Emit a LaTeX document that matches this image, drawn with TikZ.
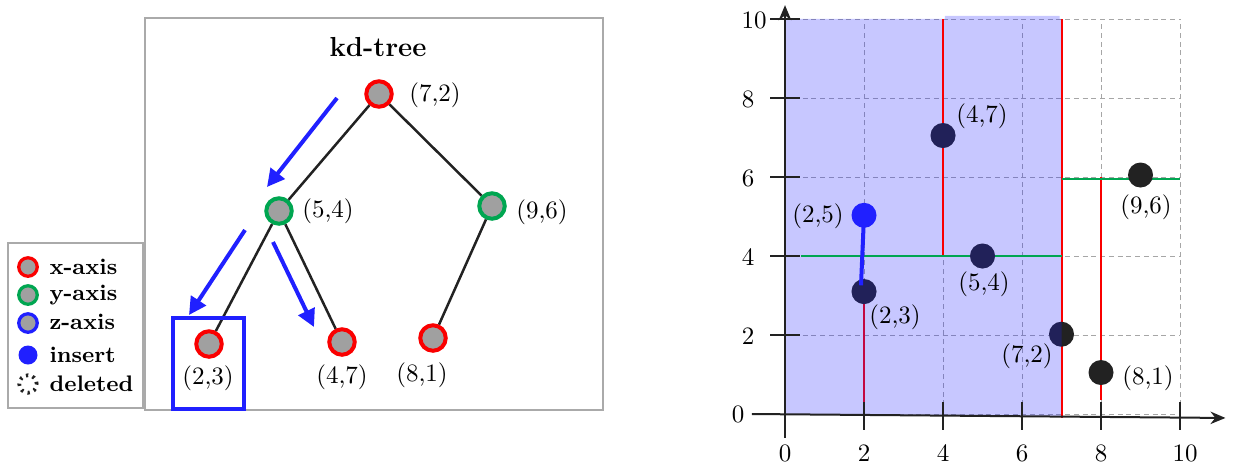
\documentclass[tikz,border=0pt]{standalone}
\usetikzlibrary{arrows.meta,calc}
\definecolor{kred}{RGB}{250,0,0}
\definecolor{kgreen}{RGB}{0,166,81}
\definecolor{kblue}{RGB}{32,32,255}
\definecolor{kgray}{RGB}{160,160,160}
\definecolor{kdark}{RGB}{34,34,34}
\definecolor{kframe}{RGB}{170,170,170}
\tikzset{
 treenode/.style={circle, fill=kgray, line width=1.6pt, minimum size=10.2pt, inner sep=0pt},
 xnode/.style={treenode, draw=kred},
 ynode/.style={treenode, draw=kgreen},
 lxnode/.style={circle, fill=kgray, line width=1.3pt, minimum size=7.4pt, inner sep=0pt, draw=kred},
 lynode/.style={lxnode, draw=kgreen},
 lznode/.style={lxnode, draw=kblue},
 linsert/.style={circle, fill=kblue, minimum size=7.6pt, inner sep=0pt},
 ldeleted/.style={circle, draw=kdark, line width=1.5pt, minimum size=7pt, inner sep=0pt, dash pattern=on 0.9pt off 1.8pt},
 edge/.style={draw=kdark, line width=1pt},
 walk/.style={draw=kblue, line width=1.6pt, -{Triangle[length=7pt,width=7pt]}},
 lbl/.style={font=\fontsize{10}{12}\selectfont, inner sep=0pt},
 legtxt/.style={font=\fontsize{9}{11}\selectfont\bfseries, anchor=west, inner sep=0pt},
 dotpt/.style={circle, fill=kdark, minimum size=10pt, inner sep=0pt},
 inspt/.style={circle, fill=kblue, minimum size=10pt, inner sep=0pt},
 frame/.style={draw=kframe, line width=0.5pt},
 gridline/.style={draw=gray!70, line width=0.3pt, dash pattern=on 2pt off 1.5pt},
 splitx/.style={draw=kred, line width=0.8pt},
 splity/.style={draw=kgreen, line width=0.8pt},
 axisline/.style={draw=kdark, line width=0.8pt},
}
\begin{document}
\begin{tikzpicture}[x=0.4pt,y=-0.4pt]
\useasboundingbox (0,0) rectangle (1237,468);
% ---------------- tree panel ----------------
\draw[frame] (145,18) rectangle (603,410);
\node[font=\fontsize{11}{13}\selectfont\bfseries, inner sep=0pt] (title) at (378,47) {kd-tree};
\node[xnode] (t72) at (379,94) {};
\node[ynode] (t54) at (279,211) {};
\node[ynode] (t96) at (492,206) {};
\node[xnode] (t23) at (209,344) {};
\node[xnode] (t47) at (342,342) {};
\node[xnode] (t81) at (433,338) {};
\draw[edge] (t72) -- (t54);
\draw[edge] (t72) -- (t96);
\draw[edge] (t54) -- (t23);
\draw[edge] (t54) -- (t47);
\draw[edge] (t96) -- (t81);
\node[lbl] (l72) at (435,95) {(7,2)};
\node[lbl] (l54) at (328,211) {(5,4)};
\node[lbl] (l96) at (542,212) {(9,6)};
\node[lbl] (l23) at (208,378) {(2,3)};
\node[lbl] (l47) at (342,377) {(4,7)};
\node[lbl] (l81) at (422,375) {(8,1)};
\coordinate (a1s) at (337,98);  \coordinate (a1e) at (267,187);
\coordinate (a2s) at (245,230); \coordinate (a2e) at (189,315);
\coordinate (a3s) at (273,242); \coordinate (a3e) at (314,327);
\draw[walk] (a1s) -- (a1e);
\draw[walk] (a2s) -- (a2e);
\draw[walk] (a3s) -- (a3e);
\draw[draw=kblue, line width=1.5pt] (173,318) rectangle (244,409);
% ---------------- legend ----------------
\draw[draw=kframe, fill=white, line width=0.8pt] (8,243) rectangle (143,408);
\node[lxnode] (gx) at (28,267) {};
\node[lynode] (gy) at (28,295) {};
\node[lznode] (gz) at (28,323) {};
\node[linsert] (gi) at (28,355) {};
\node[ldeleted] (gd) at (28,384) {};
\node[legtxt] (tx) at (49,267) {x-axis};
\node[legtxt] (ty) at (49,295) {y-axis};
\node[legtxt] (tz) at (49,322) {z-axis};
\node[legtxt] (ti) at (49,355) {insert};
\node[legtxt] (td) at (49,384) {deleted};
% ---------------- plot panel ----------------
\begin{scope}[shift={(785,414)}, x=15.8pt, y=15.8pt]
\draw[gridline] (0,0) grid[step=2] (10,10);
\draw[splitx] (2,-0.18) -- (2,3.1);
\fill[kblue, fill opacity=0.25] (0,0) -- (0,10) -- (4.05,10) -- (4.05,10.08) -- (6.95,10.08) -- (6.95,10) -- (7,10) -- (7,-0.07) -- cycle;
\draw[splitx] (4,4) -- (4,10);
\draw[splitx] (7,-0.1) -- (7,10);
\draw[splitx] (8,0.35) -- (8,6);
\draw[splity] (0.4,4) -- (7,4);
\draw[splity] (7,5.95) -- (10,5.95);
\draw[axisline, -{Stealth[length=6pt,width=5pt]}] (-0.84,0) -- (11.15,-0.1);
\draw[axisline, -{Stealth[length=6pt,width=5pt]}] (0,-0.6) -- (0,10.35);
\foreach \t in {2,4,6,8,10} {
  \draw[axisline] (\t,0.3) -- (\t,-0.4);
  \draw[axisline] (-0.38,\t) -- (0.38,\t);
}
\node[dotpt] (p23) at (2,3.1) {};
\node[dotpt] (p47) at (4,7.05) {};
\node[dotpt] (p54) at (5,4) {};
\node[dotpt] (p72) at (7,2.02) {};
\node[dotpt] (p81) at (8,1.05) {};
\node[dotpt] (p96) at (9,6.05) {};
\begin{scope}
\clip (0,0) -- (0,10) -- (7,10) -- (7,-0.07) -- cycle;
\foreach \p in {p23,p47,p54,p72} {
  \fill[kblue, fill opacity=0.25] (\p) circle (5pt);
}
\end{scope}
\node[inspt] (p25) at (2,5.03) {};
\draw[draw=kblue, line width=1.6pt] (p25.center) -- ([shift={(-1.2pt,2.5pt)}]p23.center);
\end{scope}
% plot labels
\node[lbl] (q47) at (982,116) {(4,7)};
\node[lbl] (q54) at (984,284) {(5,4)};
\node[lbl] (q23) at (895,317) {(2,3)};
\node[lbl] (q72) at (1027,356) {(7,2)};
\node[lbl] (q81) at (1148,378) {(8,1)};
\node[lbl] (q96) at (1146,207) {(9,6)};
\node[lbl] (q25) at (818,216) {(2,5)};
% tick labels
\node[lbl] (xt0) at (785,453) {0};
\node[lbl] (xt2) at (864,453) {2};
\node[lbl] (xt4) at (943,453) {4};
\node[lbl] (xt6) at (1022,453) {6};
\node[lbl] (xt8) at (1101,453) {8};
\node[lbl] (xt10) at (1185,453) {10};
\node[lbl] (yt0) at (738,414) {0};
\node[lbl] (yt2) at (748,336) {2};
\node[lbl] (yt4) at (748,257) {4};
\node[lbl] (yt6) at (748,178) {6};
\node[lbl] (yt8) at (748,99) {8};
\node[lbl] (yt10) at (754,20) {10};
\end{tikzpicture}
\end{document}
